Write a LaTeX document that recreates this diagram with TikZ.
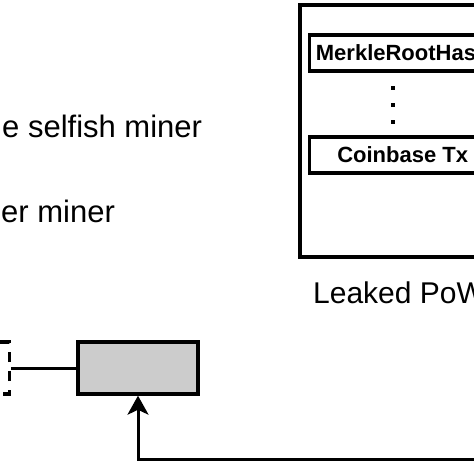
\documentclass[tikz,border=0pt]{standalone}
\usepackage{fontspec}
\setmainfont{Liberation Sans}
\usetikzlibrary{arrows.meta}
\definecolor{blockgray}{HTML}{CCCCCC}
\begin{document}
\begin{tikzpicture}[x=1pt,y=-1pt]
        \tikzstyle{fieldBox}=[draw,line width=3.4pt,minimum width=186pt,minimum height=36pt,inner sep=0pt,font=\fontsize{22}{26}\selectfont\bfseries]
        \tikzstyle{labelText}=[inner sep=0pt,font=\fontsize{30}{36}\selectfont]
        \tikzstyle{blockBox}=[draw,line width=3.4pt,minimum width=120pt,minimum height=52pt,inner sep=0pt]
        \tikzstyle{linkLine}=[line width=3pt]
    \useasboundingbox (0,0) rectangle (474,474);
    \clip (0,0) rectangle (474,474);

    \node[draw,line width=3.6pt,minimum width=230pt,minimum height=252pt,inner sep=0pt,anchor=north west] (frame) at (298,3) {};
    \node[fieldBox,anchor=west] (merkle) at (308,53) {MerkleRootHash};
    \node[fieldBox,anchor=west] (coinbase) at (308,155) {Coinbase Tx};
    \foreach \y [count=\i] in {88,105,122}
        \node[fill,minimum size=4.5pt,inner sep=0pt] (dot\i) at (393,\y) {};
    \node[labelText,anchor=base west] (leaked) at (313,303) {Leaked PoW};

    \node[labelText,font=\fontsize{31}{36}\selectfont,anchor=base west] (selfish) at (2,137) {e selfish miner};
    \node[labelText,font=\fontsize{31}{36}\selectfont,anchor=base west] (other) at (1,222) {er miner};

    \node[blockBox,fill=blockgray] (block) at (138,368) {};
    \node[blockBox,dashed,dash pattern=on 10pt off 9pt,anchor=east] (prev) at (11,368) {};
    \coordinate (feed) at (500,459);

    \draw[linkLine] (prev) -- (block);
    \draw[linkLine,-{Stealth[length=19pt,width=21pt,inset=5pt]}] (feed) -| (block.south);
    \end{tikzpicture}
\end{document}
